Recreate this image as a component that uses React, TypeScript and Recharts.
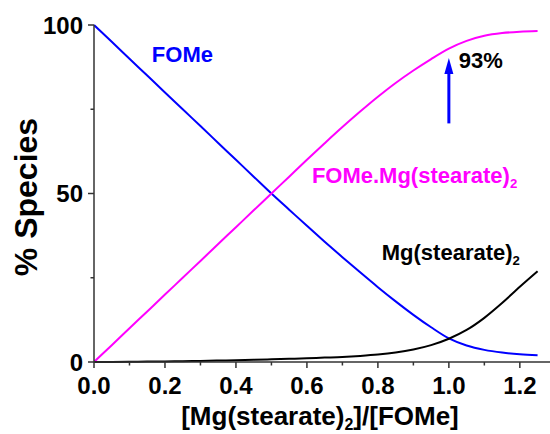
import React from "react";
import {
  LineChart,
  Line,
  XAxis,
  YAxis,
  ReferenceDot,
  ReferenceLine,
} from "recharts";

const ratio = [
  0, 0.05, 0.1, 0.15, 0.2, 0.25, 0.3, 0.35, 0.4, 0.45, 0.5, 0.55, 0.6, 0.65,
  0.7, 0.75, 0.8, 0.85, 0.9, 0.95, 1.0, 1.05, 1.1, 1.15, 1.2, 1.25,
];
const fome = [
  100, 95, 90, 85, 80, 75, 70, 65, 60, 55, 50, 45.2, 40.4, 35.7, 31.1, 26.6,
  22.2, 18.0, 14.0, 10.3, 7.0, 4.9, 3.6, 2.8, 2.3, 2.0,
];
const complex = [
  0, 5, 10, 15, 20, 25, 30, 35, 40, 45, 50, 55, 60, 64.9, 69.7, 74.3, 78.7,
  82.8, 86.5, 89.9, 93.0, 95.3, 96.8, 97.6, 98.0, 98.2,
];
const mgStearate = [
  0, 0.03, 0.07, 0.12, 0.18, 0.25, 0.33, 0.42, 0.52, 0.64, 0.78, 0.95, 1.1,
  1.3, 1.5, 1.8, 2.2, 2.8, 3.7, 5.0, 6.9, 9.5, 13.1, 17.5, 22.3, 26.9,
];

const xTicks = [0, 0.1, 0.2, 0.3, 0.4, 0.5, 0.6, 0.7, 0.8, 0.9, 1.0, 1.1, 1.2];
const yTicks = [0, 25, 50, 75, 100];

const data = ratio.map((r, i) => ({
  r,
  fome: fome[i],
  complex: complex[i],
  mg: mgStearate[i],
}));

const FONT = "'Liberation Sans', Arial, sans-serif";
const AXIS = "#333";

const isMajorX = (v: number) => Math.round(v * 10) % 2 === 0;

const BottomTick = (props: any) => {
  const { x, y, payload } = props;
  const major = isMajorX(payload.value);
  return (
    <g>
      <line x1={x} x2={x} y1={y} y2={y + (major ? 6 : 3.5)} stroke={AXIS} strokeWidth={1.5} />
      {major && (
        <text x={x} y={y + 32} textAnchor="middle" fontFamily={FONT} fontWeight="bold" fontSize={24} fill="#000">
          {payload.value.toFixed(1)}
        </text>
      )}
    </g>
  );
};

const TopTick = (props: any) => {
  const { x, y, payload } = props;
  const major = isMajorX(payload.value);
  return <line x1={x} x2={x} y1={y} y2={y + (major ? 3 : 2.5)} stroke={AXIS} strokeWidth={1} />;
};

const LeftTick = (props: any) => {
  const { x, y, payload } = props;
  const major = payload.value % 50 === 0;
  return (
    <g>
      <line x1={x} x2={x - (major ? 6 : 3.5)} y1={y} y2={y} stroke={AXIS} strokeWidth={1.5} />
      {major && (
        <text x={x - 11} y={y + 8.6} textAnchor="end" fontFamily={FONT} fontWeight="bold" fontSize={24} fill="#000">
          {payload.value}
        </text>
      )}
    </g>
  );
};

const Note = (text: string, sub: boolean, color: string, size = 22) => (props: any) => {
  const { viewBox } = props;
  return (
    <text x={viewBox.x} y={viewBox.y} fontFamily={FONT} fontWeight="bold" fontSize={size} fill={color}>
      {text}
      {sub && (
        <tspan fontSize={size * 0.6} dy={5}>
          2
        </tspan>
      )}
    </text>
  );
};

const ArrowHead = (props: any) => {
  const { cx, cy } = props;
  return <polygon points={`${cx},${cy} ${cx - 4.5},${cy + 16} ${cx + 4.5},${cy + 16}`} fill="#0000ff" />;
};

export default function App() {
  return (
    <div style={{ position: "absolute", left: 0, top: 0, width: 550, height: 434, background: "#fff" }}>
      <LineChart width={550} height={434} data={data} margin={{ top: 25, right: 0, bottom: 0, left: 0 }}>
        <XAxis
          dataKey="r"
          type="number"
          domain={[0, 1.285]}
          ticks={xTicks}
          interval={0}
          height={72}
          tickSize={0}
          tickMargin={0}
          tickLine={false}
          tick={<BottomTick />}
          axisLine={{ stroke: AXIS, strokeWidth: 1.5 }}
          allowDataOverflow
          label={{
            content: () => (
              <text x={320} y={425} textAnchor="middle" fontFamily={FONT} fontWeight="bold" fontSize={26} fill="#000">
                [Mg(stearate)
                <tspan fontSize={16} dy={5}>2</tspan>
                <tspan dy={-5}>]/[FOMe]</tspan>
              </text>
            ),
          }}
        />
        <XAxis
          xAxisId="top"
          dataKey="r"
          type="number"
          orientation="top"
          domain={[0, 1.285]}
          ticks={xTicks}
          interval={0}
          height={0}
          tickSize={0}
          tickMargin={0}
          tickLine={false}
          tick={<TopTick />}
          axisLine={{ stroke: AXIS, strokeWidth: 1.5 }}
          allowDataOverflow
        />
        <YAxis
          type="number"
          domain={[0, 100]}
          ticks={yTicks}
          interval={0}
          width={94}
          tickSize={0}
          tickMargin={0}
          tickLine={false}
          tick={<LeftTick />}
          axisLine={{ stroke: AXIS, strokeWidth: 1.5 }}
          label={{
            content: () => (
              <text
                x={37}
                y={197}
                transform="rotate(-90 37 197)"
                textAnchor="middle"
                fontFamily={FONT}
                fontWeight="bold"
                fontSize={32}
                fill="#000"
              >
                % Species
              </text>
            ),
          }}
        />
        <Line dataKey="fome" type="monotone" stroke="#0000ff" strokeWidth={2} dot={false} isAnimationActive={false} />
        <Line dataKey="complex" type="monotone" stroke="#ff00ff" strokeWidth={2} dot={false} isAnimationActive={false} />
        <Line dataKey="mg" type="monotone" stroke="#000" strokeWidth={2} dot={false} isAnimationActive={false} />
        <ReferenceLine
          segment={[
            { x: 1.0, y: 70.8 },
            { x: 1.0, y: 86 },
          ]}
          stroke="#0000ff"
          strokeWidth={3}
        />
        <ReferenceDot x={1.0} y={90.2} r={0} shape={<ArrowHead />} />
        <ReferenceDot x={0.163} y={89} r={0} label={{ content: Note("FOMe", false, "#0000ff") }} />
        <ReferenceDot x={0.614} y={53} r={0} label={{ content: Note("FOMe.Mg(stearate)", true, "#ff00ff") }} />
        <ReferenceDot x={0.811} y={30.2} r={0} label={{ content: Note("Mg(stearate)", true, "#000") }} />
        <ReferenceDot x={1.028} y={87.2} r={0} label={{ content: Note("93%", false, "#000") }} />
      </LineChart>
    </div>
  );
}
